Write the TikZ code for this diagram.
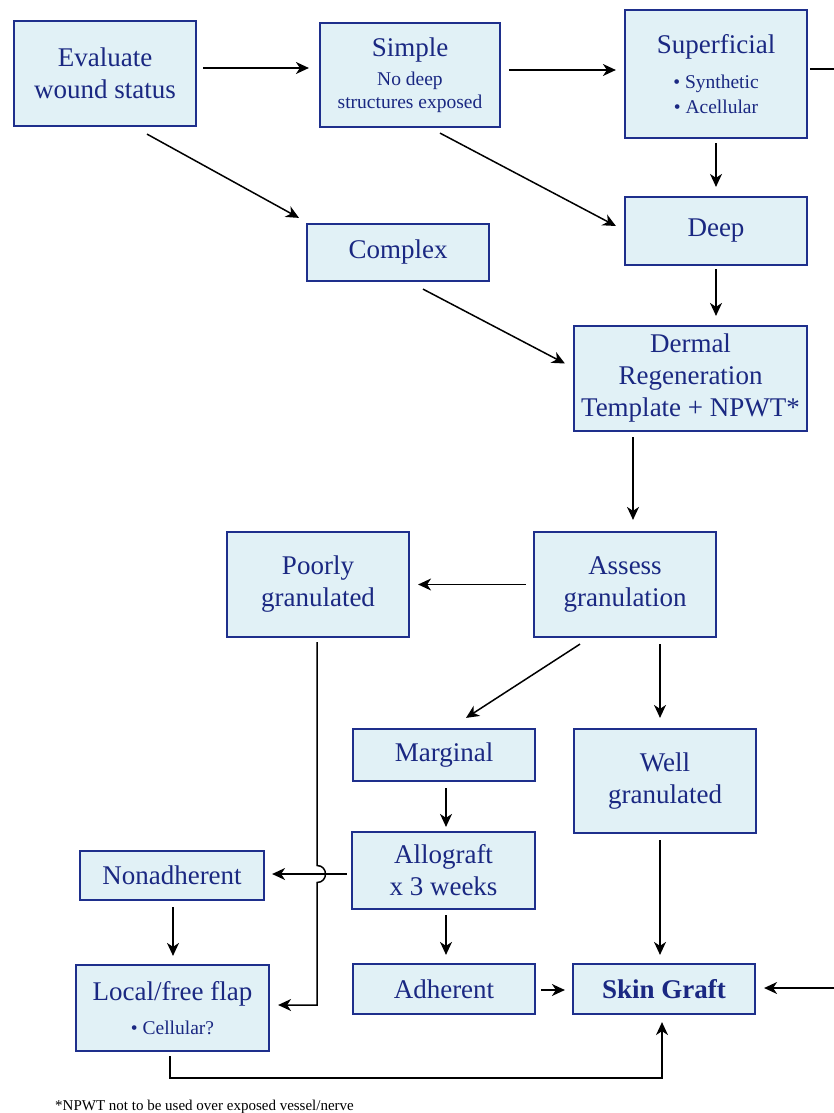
\documentclass[tikz,border=0pt]{standalone}
\usepackage{fontspec}
\setmainfont{Liberation Serif}
\usetikzlibrary{arrows.meta}
\definecolor{bordc}{HTML}{1E2F8C}
\definecolor{fillc}{HTML}{E1F1F6}
\definecolor{txtc}{HTML}{1A2882}
\newcommand\bigf{\fontsize{27}{32}\selectfont}
\newcommand\smf{\fontsize{19.5}{24}\selectfont}
\tikzset{
  box/.style={draw=bordc, fill=fillc, line width=2.2pt, text=txtc, align=center,
    font=\bigf, inner sep=0pt, rectangle},
  arr/.style={line width=1.5pt, -{Stealth[length=13pt,width=12pt,inset=4pt]}},
  ln/.style={line width=1.5pt}
}
\begin{document}
\begin{tikzpicture}[x=1pt,y=-1pt]
\useasboundingbox (0,0) rectangle (834,1113);
% nodes
\node[box, minimum width=182, minimum height=105] (eval) at (105,73.5) {Evaluate\\wound status};
\node[box, minimum width=180, minimum height=104] (simple) at (410,75) {Simple\\[-3pt]\smf No deep\\[-9pt]\smf structures exposed};
\node[box, minimum width=182, minimum height=128] (superf) at (716,74) {Superficial\\[3pt]\smf • Synthetic\\[-7pt]\smf • Acellular};
\node[box, minimum width=182, minimum height=68] (deep) at (716,231) {Deep};
\node[box, minimum width=182, minimum height=57] (complex) at (398,252.5) {Complex};
\node[box, minimum width=233, minimum height=105] (dermal) at (690.5,378.5) {Dermal\\Regeneration\\Template + NPWT*};
\node[box, minimum width=182, minimum height=105] (assess) at (625,584.5) {Assess\\granulation};
\node[box, minimum width=182, minimum height=105] (poorly) at (318,584.5) {Poorly\\granulated};
\node[box, minimum width=182, minimum height=52] (marginal) at (444,755) {Marginal};
\node[box, minimum width=182, minimum height=104] (well) at (665,781) {Well\\granulated};
\node[box, minimum width=183, minimum height=77] (allo) at (443.5,870.5) {Allograft\\x 3 weeks};
\node[box, minimum width=184, minimum height=49] (nonadh) at (172,875.5) {Nonadherent};
\node[box, minimum width=182, minimum height=50] (adh) at (444,989) {Adherent};
\node[box, minimum width=182, minimum height=50] (skin) at (664,989) {\bfseries Skin Graft};
\node[box, minimum width=193, minimum height=86] (local) at (172.5,1008) {Local/free flap\\[2pt]\smf • Cellular?};
\node[anchor=base west, font=\fontsize{15}{18}\selectfont, inner sep=0pt] (note) at (55,1110) {*NPWT not to be used over exposed vessel/nerve};
\coordinate (edgeA) at (834,69);
\coordinate (edgeB) at (834,988);
\coordinate (jumpA) at (317,865.5);
\coordinate (jumpB) at (317,882.5);
% connectors
\draw[arr] ([xshift=6pt,yshift=5.5pt]eval.east) -- ([xshift=-10pt,yshift=7pt]simple.west);
\draw[arr] ([xshift=8pt,yshift=5pt]simple.east) -- ([xshift=-8pt,yshift=4pt]superf.west);
\draw[ln] ([xshift=2pt,yshift=5pt]superf.east) -- (edgeA);
\draw[arr] ([yshift=-4pt]superf.south) -- ([yshift=9pt]deep.north);
\draw[arr] ([xshift=42pt,yshift=-7pt]eval.south) -- ([xshift=-99pt,yshift=5pt]complex.north);
\draw[arr] ([xshift=30pt,yshift=-5pt]simple.south) -- ([xshift=-8pt,yshift=5pt]deep.west);
\draw[arr] ([yshift=-3pt]deep.south) -- ([xshift=25.5pt,yshift=9pt]dermal.north);
\draw[arr] ([xshift=25pt,yshift=-7pt]complex.south) -- ([xshift=-8pt,yshift=15pt]dermal.west);
\draw[arr] ([xshift=-57.5pt,yshift=-5pt]dermal.south) -- ([xshift=8pt,yshift=11pt]assess.north);
\draw[arr] ([xshift=-7pt]assess.west) -- ([xshift=8pt]poorly.east);
\draw[arr] ([xshift=-45pt,yshift=-6pt]assess.south) -- ([xshift=22pt,yshift=10pt]marginal.north);
\draw[arr] ([xshift=35pt,yshift=-6pt]assess.south) -- ([xshift=-5pt,yshift=10pt]well.north);
\draw[arr] ([xshift=2pt,yshift=-6pt]marginal.south) -- ([xshift=2.5pt,yshift=4pt]allo.north);
\draw[arr] ([xshift=-4pt,yshift=-3.5pt]allo.west) -- ([xshift=7pt,yshift=1.5pt]nonadh.east);
\draw[arr] ([xshift=-1pt,yshift=-4pt]poorly.south) -- (jumpA)
  .. controls ([xshift=11.3pt]jumpA) and ([xshift=11.3pt]jumpB) .. (jumpB)
  |- ([xshift=8pt,yshift=3pt]local.east);
\draw[arr] ([xshift=1pt,yshift=-6pt]nonadh.south) -- ([xshift=0.5pt,yshift=8pt]local.north);
\draw[arr] ([xshift=2.5pt,yshift=-5pt]allo.south) -- ([xshift=2pt,yshift=8pt]adh.north);
\draw[arr] ([xshift=5pt,yshift=-1pt]adh.east) -- ([xshift=-7pt,yshift=-1pt]skin.west);
\draw[arr] ([xshift=-5pt,yshift=-6pt]well.south) -- ([xshift=-4pt,yshift=8pt]skin.north);
\draw[arr] (edgeB) -- ([xshift=8pt,yshift=1pt]skin.east);
\draw[arr] ([xshift=-2.5pt,yshift=-4pt]local.south) -- ++(0,22) -| ([xshift=-2pt,yshift=-7pt]skin.south);
\end{tikzpicture}
\end{document}
